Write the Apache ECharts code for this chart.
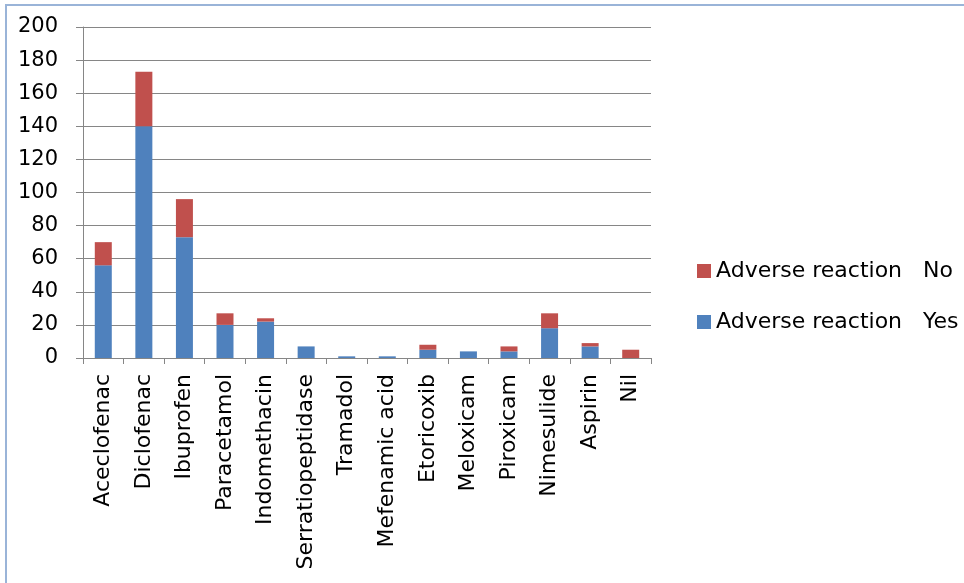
<!DOCTYPE html>
<html><head><meta charset="utf-8">
<script src="https://cdn.jsdelivr.net/npm/echarts@6/dist/echarts.min.js"></script>
<style>html,body{margin:0;padding:0;background:#fff}#c{width:964px;height:583px}</style>
</head><body><div id="c"></div>
<script>
const categories = ['Aceclofenac','Diclofenac','Ibuprofen','Paracetamol','Indomethacin','Serratiopeptidase','Tramadol','Mefenamic acid','Etoricoxib','Meloxicam','Piroxicam','Nimesulide','Aspirin','Nil'];
const yesValues = [56,140,73,20,22,7,1,1,5,4,4,18,7,0];
const noValues  = [14,33,23,7,2,0,0,0,3,0,3,9,2,5];
const yTicks = [0,20,40,60,80,100,120,140,160,180,200];
const seriesNames = ['Adverse reaction   Yes','Adverse reaction   No'];

const chart = echarts.init(document.getElementById('c'));
chart.setOption({
  animation:false,
  backgroundColor:'#fff',
  graphic:[{type:'rect',shape:{x:6,y:5,width:1000,height:700},style:{fill:'none',stroke:'#9ab4d8',lineWidth:2},silent:true,z:-1}],
  grid:{left:83,right:313,top:27,bottom:225,containLabel:false},
  legend:{
    orient:'vertical',left:697,top:259,itemWidth:14,itemHeight:14,itemGap:27,padding:0,
    icon:'rect',
    data:[seriesNames[1],seriesNames[0]],
    textStyle:{fontFamily:'DejaVu Sans',fontSize:22,lineHeight:24,color:'#000'}
  },
  xAxis:{
    type:'category',data:categories,
    axisLine:{lineStyle:{color:'#868686',width:1}},
    axisTick:{show:true,length:6,lineStyle:{color:'#868686'}},
    axisLabel:{rotate:90,interval:0,margin:16,fontFamily:'DejaVu Sans',fontSize:22,color:'#000'}
  },
  yAxis:{
    type:'value',min:yTicks[0],max:yTicks[yTicks.length-1],interval:20,
    axisLine:{show:true,lineStyle:{color:'#868686'}},
    axisTick:{show:true,length:7,lineStyle:{color:'#868686'}},
    splitLine:{lineStyle:{color:'#868686',width:1}},
    axisLabel:{margin:25,fontFamily:'DejaVu Sans',fontSize:21,color:'#000'}
  },
  series:[
    {name:seriesNames[0],type:'bar',stack:'a',data:yesValues,barWidth:17,itemStyle:{color:'#4f81bd'}},
    {name:seriesNames[1],type:'bar',stack:'a',data:noValues,barWidth:17,itemStyle:{color:'#c0504d'}}
  ]
});
</script></body></html>
